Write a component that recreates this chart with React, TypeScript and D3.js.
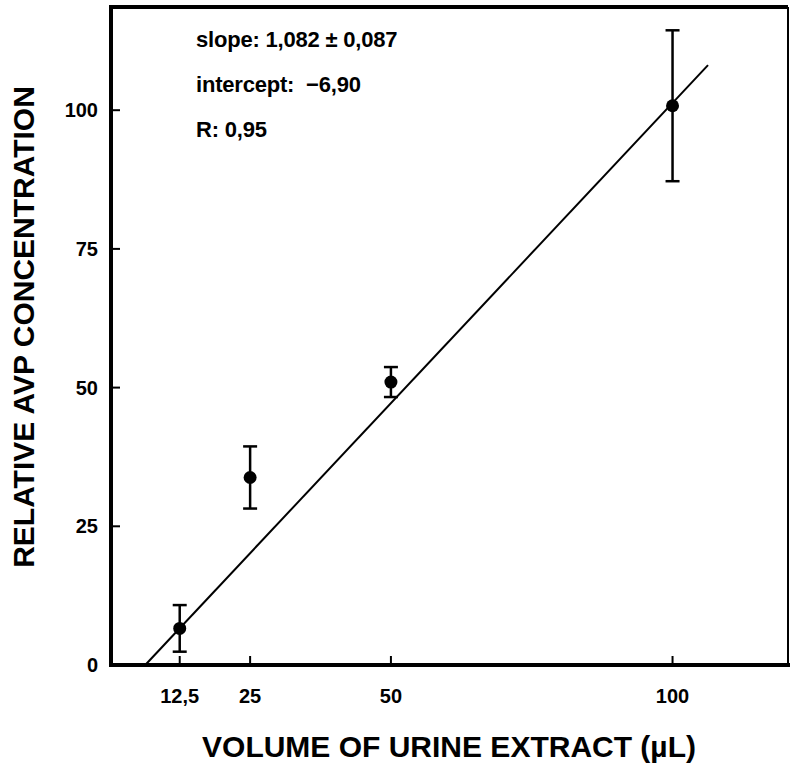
import React, { useEffect, useRef } from 'react';
import * as d3 from 'd3';

// measured points (volume in µL, relative AVP concentration, ± error)
const volumes = [12.5, 25, 50, 100];
const means = [6.6, 33.8, 51.0, 100.8];
const errors = [4.2, 5.6, 2.7, 13.6];

const xTicks = [12.5, 25, 50, 100];
const xTickLabels = ['12,5', '25', '50', '100'];
const yTicks = [0, 25, 50, 75, 100];

// regression line
const fitSlope = 1.082;
const fitIntercept = -6.9;
const fitRange = [6.38, 106.3];

const statsLines = ['slope: 1,082 \u00b1 0,087', 'intercept:  \u22126,90', 'R: 0,95'];

const App = () => {
    const ref = useRef<SVGSVGElement>(null);

    useEffect(() => {
        const width = 791, height = 768;
        const svg = d3.select(ref.current);
        svg.selectAll('*').remove();

        const left = 111, right = 788, top = 7, bottom = 665;

        const x = d3.scaleLinear().domain([0.3, 120.5]).range([left, right]);
        const y = d3.scaleLinear().domain([0, 118.6]).range([bottom, top]);

        const font = "'Liberation Sans', Arial, sans-serif";

        // frame
        svg.append('line').attr('x1', left).attr('x2', right).attr('y1', top).attr('y2', top)
            .attr('stroke', '#000').attr('stroke-width', 4);
        svg.append('line').attr('x1', left).attr('x2', left).attr('y1', top - 2).attr('y2', bottom + 2)
            .attr('stroke', '#000').attr('stroke-width', 4);
        svg.append('line').attr('x1', left - 2).attr('x2', right + 2).attr('y1', bottom).attr('y2', bottom)
            .attr('stroke', '#000').attr('stroke-width', 4);
        svg.append('line').attr('x1', right).attr('x2', right).attr('y1', top).attr('y2', bottom)
            .attr('stroke', '#000').attr('stroke-width', 2);

        // ticks (inward)
        svg.selectAll('.xtick').data(xTicks).enter().append('line')
            .attr('x1', d => x(d)).attr('x2', d => x(d))
            .attr('y1', bottom).attr('y2', bottom - 9)
            .attr('stroke', '#000').attr('stroke-width', 2);
        svg.selectAll('.xlabel').data(xTicks).enter().append('text')
            .attr('x', d => x(d)).attr('y', 703)
            .attr('text-anchor', 'middle')
            .style('font-family', font).style('font-size', '20px').style('font-weight', 'bold')
            .text((d, i) => xTickLabels[i]);

        svg.selectAll('.ytick').data(yTicks).enter().append('line')
            .attr('x1', left).attr('x2', left + 9)
            .attr('y1', d => y(d)).attr('y2', d => y(d))
            .attr('stroke', '#000').attr('stroke-width', 2);
        svg.selectAll('.ylabel').data(yTicks).enter().append('text')
            .attr('x', 98).attr('y', d => y(d) + 7)
            .attr('text-anchor', 'end')
            .style('font-family', font).style('font-size', '20px').style('font-weight', 'bold')
            .text(d => d);

        // axis titles
        svg.append('text')
            .attr('x', 449).attr('y', 757)
            .attr('text-anchor', 'middle')
            .style('font-family', font).style('font-size', '30px').style('font-weight', 'bold')
            .text('VOLUME OF URINE EXTRACT (\u00b5L)');
        svg.append('text')
            .attr('transform', 'translate(34,327) rotate(-90)')
            .attr('text-anchor', 'middle')
            .style('font-family', font).style('font-size', '30px').style('font-weight', 'bold')
            .text('RELATIVE AVP CONCENTRATION');

        // regression line
        const line = d3.line<number>()
            .x(d => x(d))
            .y(d => y(fitSlope * d + fitIntercept));
        svg.append('path')
            .attr('d', line(fitRange))
            .attr('fill', 'none').attr('stroke', '#000').attr('stroke-width', 2);

        // error bars
        const pts = volumes.map((v, i) => ({ v, m: means[i], e: errors[i] }));
        const bars = svg.selectAll('.err').data(pts).enter().append('g');
        bars.append('line')
            .attr('x1', d => x(d.v)).attr('x2', d => x(d.v))
            .attr('y1', d => y(d.m + d.e)).attr('y2', d => y(d.m - d.e))
            .attr('stroke', '#000').attr('stroke-width', 2.5);
        bars.append('line')
            .attr('x1', d => x(d.v) - 7).attr('x2', d => x(d.v) + 7)
            .attr('y1', d => y(d.m + d.e)).attr('y2', d => y(d.m + d.e))
            .attr('stroke', '#000').attr('stroke-width', 2.5);
        bars.append('line')
            .attr('x1', d => x(d.v) - 7).attr('x2', d => x(d.v) + 7)
            .attr('y1', d => y(d.m - d.e)).attr('y2', d => y(d.m - d.e))
            .attr('stroke', '#000').attr('stroke-width', 2.5);
        bars.append('circle')
            .attr('cx', d => x(d.v)).attr('cy', d => y(d.m))
            .attr('r', 6.5).attr('fill', '#000');

        // fit statistics
        svg.selectAll('.stat').data(statsLines).enter().append('text')
            .attr('x', 196).attr('y', (d, i) => 47 + i * 45)
            .attr('xml:space', 'preserve')
            .style('white-space', 'pre')
            .style('font-family', font).style('font-size', '22px').style('font-weight', 'bold')
            .style('letter-spacing', '-0.2px')
            .text(d => d);

        svg.attr('width', width).attr('height', height);
    }, []);

    return (
        <svg ref={ref} width={791} height={768}
            style={{ position: 'absolute', left: 0, top: 0, background: '#fff' }} />
    );
};

export default App;
